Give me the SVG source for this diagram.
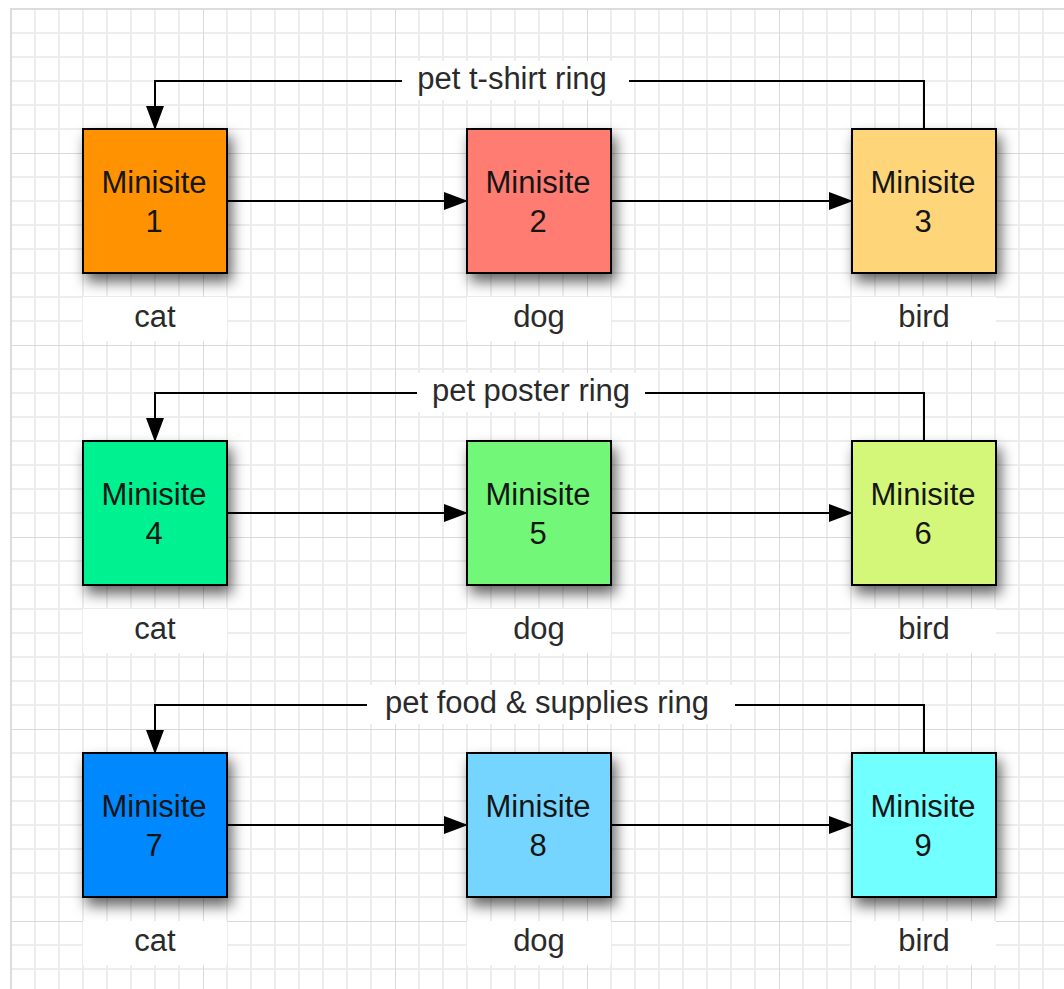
<svg xmlns="http://www.w3.org/2000/svg" width="1064" height="989" viewBox="0 0 1064 989">
  <defs>
    <pattern id="grid" patternUnits="userSpaceOnUse" x="11" y="153" width="192" height="192">
      <path d="M0 24H192M0 48H192M0 72H192M0 96H192M0 120H192M0 144H192M0 168H192M24 0V192M48 0V192M72 0V192M96 0V192M120 0V192M144 0V192M168 0V192" stroke="#ededed" stroke-width="2" fill="none"/>
      <path d="M0 0H192M0 0V192" stroke="#d9d9d9" stroke-width="2" fill="none"/>
    </pattern>
    <filter id="shadow" x="-30%" y="-30%" width="170%" height="170%">
      <feDropShadow dx="4" dy="8" stdDeviation="7" flood-color="#000" flood-opacity="0.6"/>
    </filter>
    <marker id="arrow" viewBox="0 0 24 18" refX="23" refY="9" markerWidth="24" markerHeight="18" markerUnits="userSpaceOnUse" orient="auto">
      <path d="M0 0L24 9L0 18Z" fill="#000"/>
    </marker>
  </defs>
  <style>
    .box{stroke:#000;stroke-width:2;filter:url(#shadow)}
    .t{font-family:"Liberation Sans",Arial,sans-serif;font-size:31px;fill:#151515;text-anchor:middle}
    .lbl{font-family:"Liberation Sans",Arial,sans-serif;font-size:31px;fill:#2a2a2a;text-anchor:middle}
    .bg{fill:#fff}
    .conn{stroke:#000;stroke-width:2;fill:none;marker-end:url(#arrow)}
  </style>
  <rect width="1064" height="989" fill="#fff"/>
  <rect x="11" y="8" width="1053" height="981" fill="url(#grid)"/>
  <path d="M11 9H1064M11 8V989" stroke="#dcdcdc" stroke-width="2" fill="none"/>

  <g id="connectors">
    <path class="conn" d="M227 201H467"/>
    <path class="conn" d="M611 201H852"/>
    <path class="conn" d="M924 129V81H155V129"/>
    <path class="conn" d="M227 513H467"/>
    <path class="conn" d="M611 513H852"/>
    <path class="conn" d="M924 441V393H155V441"/>
    <path class="conn" d="M227 825H467"/>
    <path class="conn" d="M611 825H852"/>
    <path class="conn" d="M924 753V705H155V753"/>
  </g>

  <g id="ring1-label">
    <rect class="bg" x="402" y="61" width="227" height="39"/>
    <text class="lbl" x="512" y="89">pet t-shirt ring</text>
  </g>
  <g id="ring2-label">
    <rect class="bg" x="417" y="373" width="228" height="39"/>
    <text class="lbl" x="531" y="401">pet poster ring</text>
  </g>
  <g id="ring3-label">
    <rect class="bg" x="367" y="685" width="368" height="39"/>
    <text class="lbl" x="547" y="713">pet food &amp; supplies ring</text>
  </g>

  <g id="node1">
    <rect class="box" x="83" y="129" width="144" height="144" fill="#ff9200"/>
    <text class="t" x="154" y="193">Minisite</text><text class="t" x="154" y="232">1</text>
    <rect class="bg" x="83" y="297" width="144" height="44"/>
    <text class="lbl" x="155" y="327">cat</text>
  </g>
  <g id="node2">
    <rect class="box" x="467" y="129" width="144" height="144" fill="#ff7b73"/>
    <text class="t" x="538" y="193">Minisite</text><text class="t" x="538" y="232">2</text>
    <rect class="bg" x="467" y="297" width="144" height="44"/>
    <text class="lbl" x="539" y="327">dog</text>
  </g>
  <g id="node3">
    <rect class="box" x="852" y="129" width="144" height="144" fill="#ffd57a"/>
    <text class="t" x="923" y="193">Minisite</text><text class="t" x="923" y="232">3</text>
    <rect class="bg" x="852" y="297" width="144" height="44"/>
    <text class="lbl" x="924" y="327">bird</text>
  </g>

  <g id="node4">
    <rect class="box" x="83" y="441" width="144" height="144" fill="#00f18f"/>
    <text class="t" x="154" y="505">Minisite</text><text class="t" x="154" y="544">4</text>
    <rect class="bg" x="83" y="609" width="144" height="44"/>
    <text class="lbl" x="155" y="639">cat</text>
  </g>
  <g id="node5">
    <rect class="box" x="467" y="441" width="144" height="144" fill="#72f778"/>
    <text class="t" x="538" y="505">Minisite</text><text class="t" x="538" y="544">5</text>
    <rect class="bg" x="467" y="609" width="144" height="44"/>
    <text class="lbl" x="539" y="639">dog</text>
  </g>
  <g id="node6">
    <rect class="box" x="852" y="441" width="144" height="144" fill="#d5f779"/>
    <text class="t" x="923" y="505">Minisite</text><text class="t" x="923" y="544">6</text>
    <rect class="bg" x="852" y="609" width="144" height="44"/>
    <text class="lbl" x="924" y="639">bird</text>
  </g>

  <g id="node7">
    <rect class="box" x="83" y="753" width="144" height="144" fill="#0088ff"/>
    <text class="t" x="154" y="817">Minisite</text><text class="t" x="154" y="856">7</text>
    <rect class="bg" x="83" y="921" width="144" height="44"/>
    <text class="lbl" x="155" y="951">cat</text>
  </g>
  <g id="node8">
    <rect class="box" x="467" y="753" width="144" height="144" fill="#76d5ff"/>
    <text class="t" x="538" y="817">Minisite</text><text class="t" x="538" y="856">8</text>
    <rect class="bg" x="467" y="921" width="144" height="44"/>
    <text class="lbl" x="539" y="951">dog</text>
  </g>
  <g id="node9">
    <rect class="box" x="852" y="753" width="144" height="144" fill="#72ffff"/>
    <text class="t" x="923" y="817">Minisite</text><text class="t" x="923" y="856">9</text>
    <rect class="bg" x="852" y="921" width="144" height="44"/>
    <text class="lbl" x="924" y="951">bird</text>
  </g>
</svg>
